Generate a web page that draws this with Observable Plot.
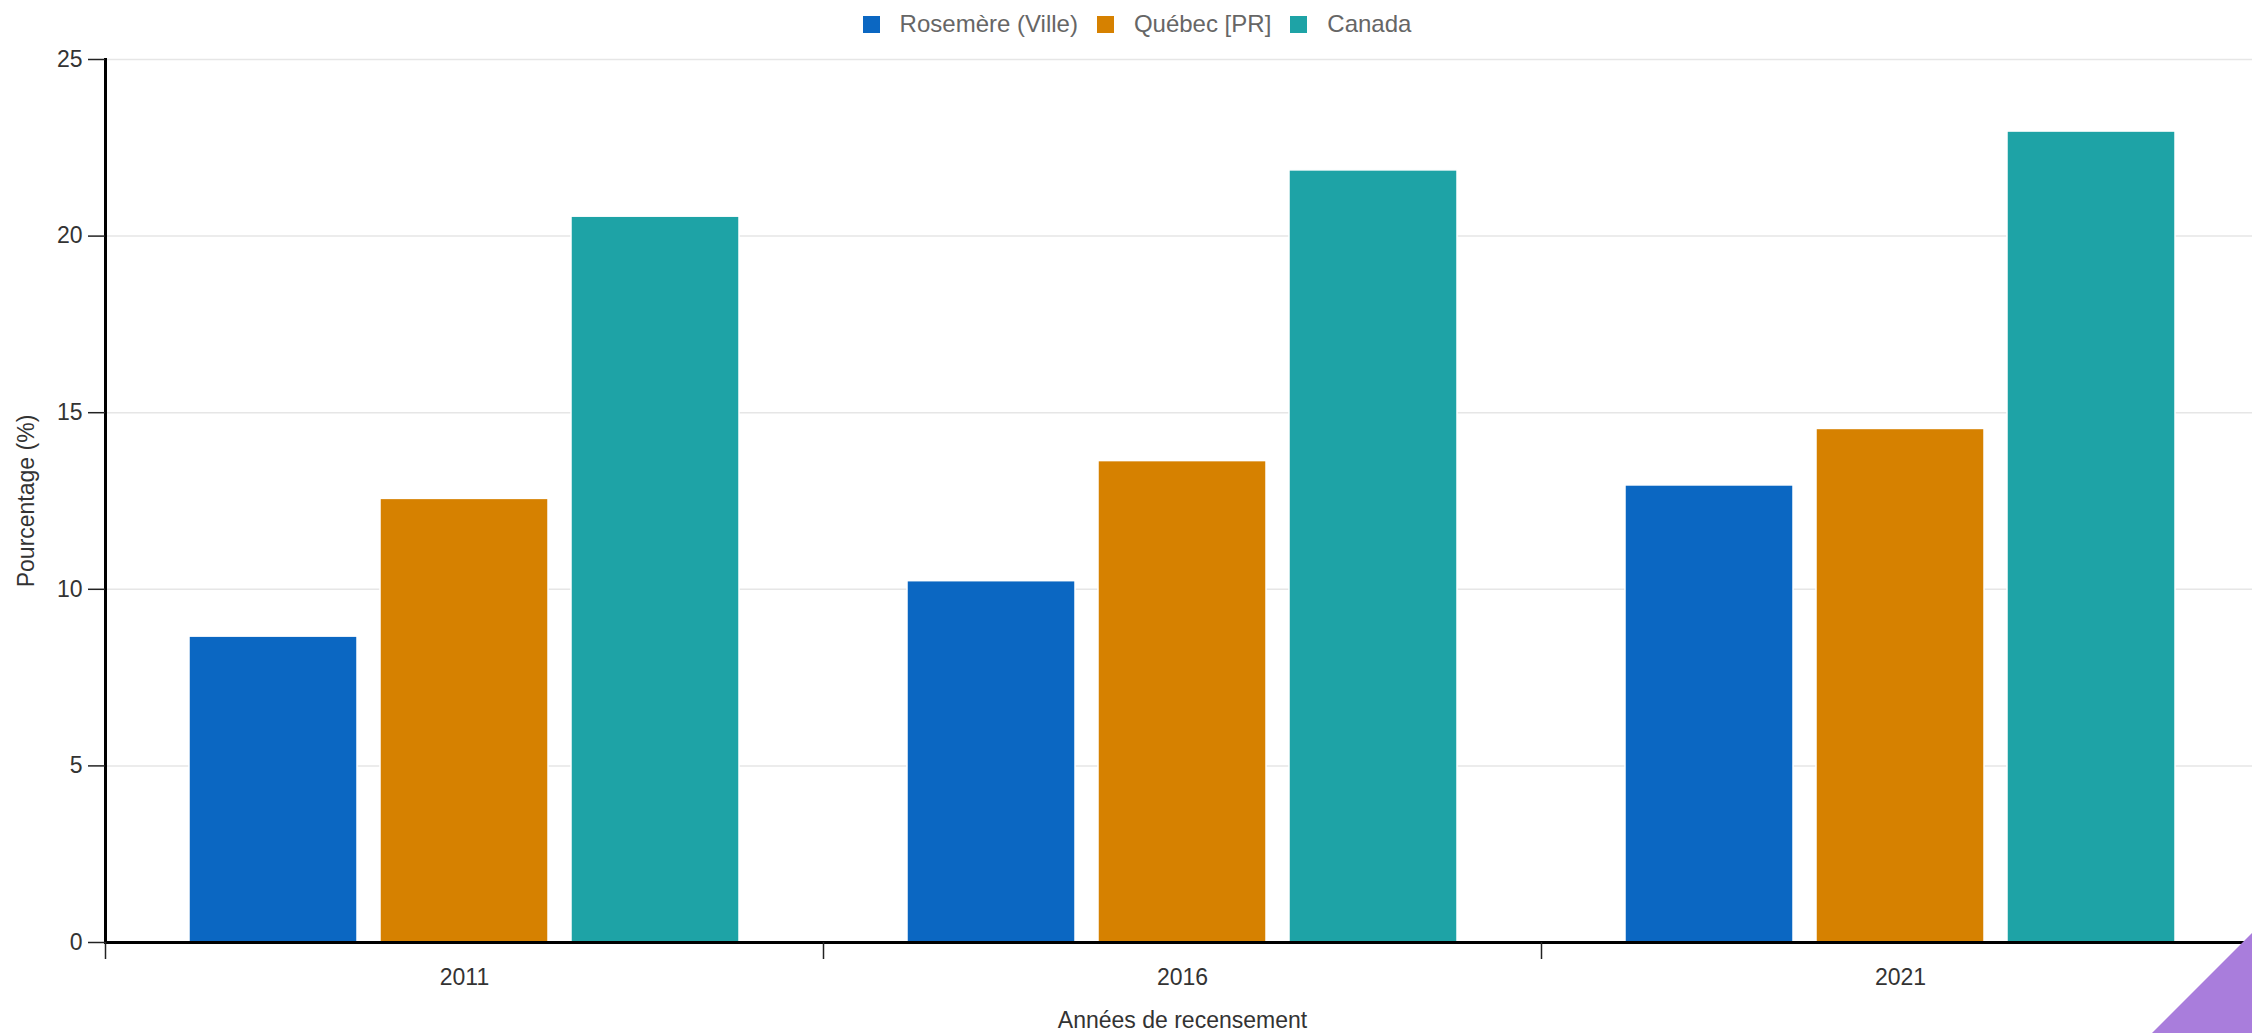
<!DOCTYPE html>
<html>
<head>
<meta charset="utf-8">
<script src="https://cdn.jsdelivr.net/npm/d3@7"></script>
<script src="https://cdn.jsdelivr.net/npm/@observablehq/plot@0.6"></script>
<style>
  html, body { margin: 0; padding: 0; background: #fff; overflow: hidden; width: 2252px; height: 1033px; }
  #wrap { position: relative; width: 2252px; height: 1033px; overflow: hidden; }
  #chart { position: absolute; left: 0; top: 0; }
  #chart svg { max-width: none !important; }
  #legend { position: absolute; top: 24px; left: 0; width: 2252px; box-sizing: border-box; padding-left: 22px;
            transform: translateY(-50%); display: flex; justify-content: center; align-items: center;
            font: 24px "Liberation Sans", Arial, sans-serif; color: #666; }
  .item { display: flex; align-items: center; margin-right: 19px; }
  .item:last-child { margin-right: 0; }
  .sw { width: 17px; height: 17px; margin-right: 20px; }
  #corner { position: absolute; right: 0; bottom: 0; width: 100px; height: 100px; background: #a97ddc;
            clip-path: polygon(100% 0, 100% 100%, 0 100%); }
</style>
</head>
<body>
<div id="wrap">
  <div id="chart"></div>
  <div id="legend"></div>
  <div id="corner"></div>
</div>
<script>
// ---- data ----
const years = ["2011", "2016", "2021"];
const series = ["Rosemère (Ville)", "Québec [PR]", "Canada"];
const rosemere = [8.66, 10.23, 12.94];
const quebec = [12.56, 13.63, 14.54];
const canada = [20.55, 21.86, 22.96];
const colors = ["#0b67c2", "#d68100", "#1ea3a6"];
const yTicks = [0, 5, 10, 15, 20, 25];
const yLabel = "Pourcentage (%)";
const xLabel = "Années de recensement";

const seriesValues = [rosemere, quebec, canada];
const rows = years.flatMap((year, i) =>
  series.map((s, j) => ({ year, series: s, value: seriesValues[j][i] }))
);

// ---- layout ----
const W = 2259, H = 1033, mL = 105, mR = 0, mT = 59, mB = 91;
const halfBand = (W - mL - mR) / years.length / 2;
const font = "'Liberation Sans', Arial, sans-serif";

const chart = Plot.plot({
  width: W,
  height: H,
  marginLeft: mL,
  marginRight: mR,
  marginTop: mT,
  marginBottom: mB,
  style: { fontFamily: font, fontSize: "23px", color: "#333", background: "transparent", overflow: "visible", maxWidth: "none" },
  fx: { domain: years, padding: 0 },
  x: { domain: series, paddingInner: 0.123, paddingOuter: 0.435, axis: null },
  y: { domain: [0, 25] },
  color: { domain: series, range: colors },
  marks: [
    Plot.gridY(yTicks, { stroke: "#e6e6e6", strokeOpacity: 1, strokeWidth: 1.5 }),
    Plot.barY(rows, { fx: "year", x: "series", y: "value", fill: "series", stroke: "#fff", strokeWidth: 1.5 }),
    Plot.ruleY([0], { stroke: "#000", strokeWidth: 3 }),
    Plot.frame({ anchor: "left", facetAnchor: "left", stroke: "#000", strokeWidth: 3 }),
    Plot.axisY(yTicks, {
      anchor: "left", tickSize: 17, tickPadding: 6, stroke: "#222", strokeWidth: 1.5, fill: "#333",
      fontSize: 23, label: yLabel, labelAnchor: "center", labelArrow: "none", labelOffset: 88
    }),
    Plot.axisFx({
      anchor: "bottom", tickSize: 0, tickPadding: 26, fill: "#333", fontSize: 23,
      label: xLabel, labelAnchor: "center", labelArrow: "none", labelOffset: 85
    }),
    Plot.axisFx({
      anchor: "bottom", tickSize: 17, tickFormat: () => "", label: null,
      stroke: "#222", strokeWidth: 1.5, dx: -halfBand
    })
  ]
});
chart.style.maxWidth = "none";
document.getElementById("chart").appendChild(chart);

// ---- legend ----
const legend = d3.select("#legend");
series.forEach((s, i) => {
  const item = legend.append("div").attr("class", "item");
  item.append("div").attr("class", "sw").style("background", colors[i]);
  item.append("span").text(s);
});
</script>
</body>
</html>
